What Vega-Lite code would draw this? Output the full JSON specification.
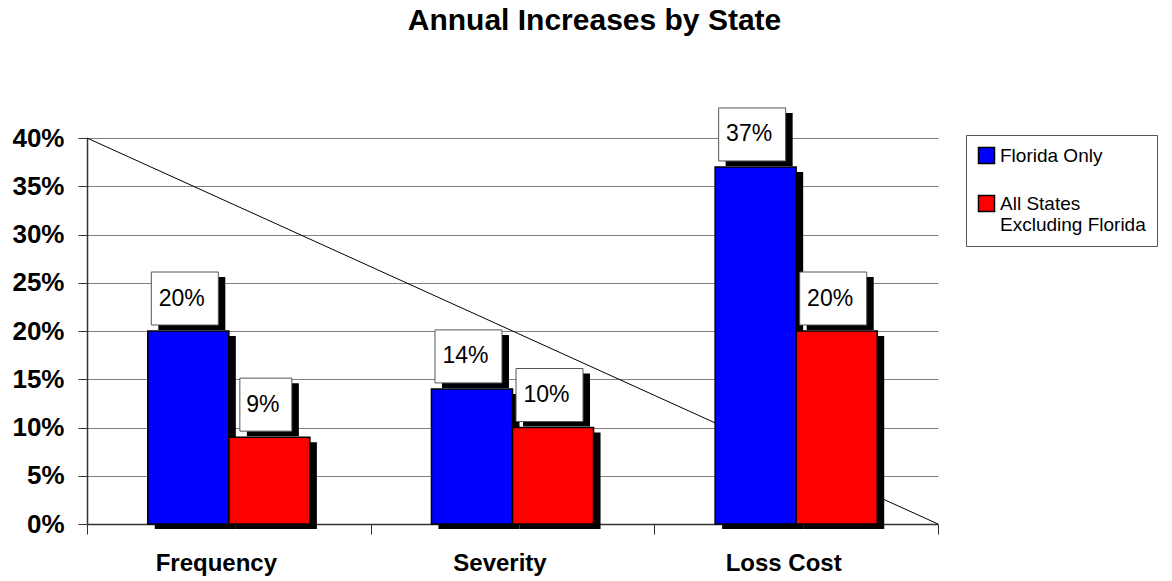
{
  "$schema": "https://vega.github.io/schema/vega-lite/v6.json",
  "width": 851,
  "height": 386,
  "autosize": {"type": "none"},
  "padding": {"left": 87, "top": 138, "right": 234, "bottom": 57},
  "background": "white",
  "config": {
    "font": "Liberation Sans",
    "view": {"stroke": null}
  },
  "title": {
    "text": "Annual Increases by State",
    "font": "Liberation Sans",
    "fontSize": 30,
    "fontWeight": "bold",
    "color": "black",
    "anchor": "middle",
    "dx": 82,
    "baseline": "alphabetic",
    "offset": 47
  },
  "datasets": {
    "increases": [
      {"cat": "Frequency", "series": "Florida Only", "value": 0.20},
      {"cat": "Frequency", "series": "All States Excluding Florida", "value": 0.09},
      {"cat": "Severity", "series": "Florida Only", "value": 0.14},
      {"cat": "Severity", "series": "All States Excluding Florida", "value": 0.10},
      {"cat": "Loss Cost", "series": "Florida Only", "value": 0.37},
      {"cat": "Loss Cost", "series": "All States Excluding Florida", "value": 0.20}
    ],
    "diagonal": [
      {"t": 0, "value": 0.40},
      {"t": 1, "value": 0.0}
    ]
  },
  "layer": [
    {
      "data": {"name": "diagonal"},
      "mark": {"type": "line", "color": "black", "strokeWidth": 1},
      "encoding": {
        "x": {"field": "t", "type": "quantitative", "scale": {"domain": [0, 1], "nice": false, "zero": false}, "axis": null},
        "y": {
          "field": "value", "type": "quantitative",
          "scale": {"domain": [0, 0.4], "nice": false},
          "axis": {
            "title": null,
            "values": [0, 0.05, 0.1, 0.15, 0.2, 0.25, 0.3, 0.35, 0.4],
            "format": ".0%",
            "labelFont": "Liberation Sans",
            "labelFontSize": 26,
            "labelFontWeight": "bold",
            "labelColor": "black",
            "labelPadding": 14,
            "labelFlush": false,
            "labelBound": false,
            "tickSize": 9,
            "tickColor": "#333",
            "domainColor": "#333",
            "domainWidth": 1.5,
            "grid": true,
            "gridColor": "#808080",
            "gridWidth": 1
          }
        }
      }
    },
    {
      "data": {"name": "increases"},
      "encoding": {
        "x": {
          "field": "cat", "type": "nominal",
          "scale": {"domain": ["Frequency", "Severity", "Loss Cost"], "paddingInner": 0, "paddingOuter": 0},
          "axis": {
            "title": null,
            "tickBand": "extent",
            "labelAngle": 0,
            "labelFont": "Liberation Sans",
            "labelFontSize": 24,
            "labelFontWeight": "bold",
            "labelColor": "black",
            "labelOffset": -13,
            "labelPadding": 17,
            "tickSize": 10,
            "tickColor": "#333",
            "domainColor": "#333",
            "domainWidth": 1.5,
            "grid": false
          }
        },
        "y": {
          "field": "value", "type": "quantitative",
          "scale": {"domain": [0, 0.4], "nice": false},
          "axis": {
            "title": null,
            "values": [0, 0.05, 0.1, 0.15, 0.2, 0.25, 0.3, 0.35, 0.4],
            "format": ".0%",
            "labelFont": "Liberation Sans",
            "labelFontSize": 26,
            "labelFontWeight": "bold",
            "labelColor": "black",
            "labelPadding": 14,
            "labelFlush": false,
            "labelBound": false,
            "tickSize": 9,
            "tickColor": "#333",
            "domainColor": "#333",
            "domainWidth": 1.5,
            "grid": true,
            "gridColor": "#808080",
            "gridWidth": 1
          }
        }
      },
      "layer": [
        {
          "mark": {"type": "bar", "color": "black", "yOffset": 5, "y2Offset": 5},
          "encoding": {
            "xOffset": {
              "field": "series", "type": "nominal",
              "scale": {"domain": ["Florida Only", "All States Excluding Florida"], "range": [7, 290.67], "paddingInner": 0, "paddingOuter": 0.75}
            }
          }
        },
        {
          "mark": {"type": "bar", "stroke": "black", "strokeWidth": 1.5},
          "encoding": {
            "xOffset": {
              "field": "series", "type": "nominal",
              "scale": {"domain": ["Florida Only", "All States Excluding Florida"], "range": [0, 283.67], "paddingInner": 0, "paddingOuter": 0.75}
            },
            "color": {
              "field": "series", "type": "nominal",
              "scale": {"domain": ["Florida Only", "All States Excluding Florida"], "range": ["#0000FF", "#FF0000"]},
              "legend": {
                "orient": "none",
                "legendX": 879,
                "legendY": -3,
                "title": null,
                "symbolType": "square",
                "symbolSize": 256,
                "symbolStrokeColor": "black",
                "symbolStrokeWidth": 1.5,
                "labelFont": "Liberation Sans",
                "labelFontSize": 19,
                "labelColor": "black",
                "labelLimit": 300,
                "labelOffset": 4,
                "labelExpr": "datum.label == 'All States Excluding Florida' ? ['All States', 'Excluding Florida'] : datum.label",
                "strokeColor": "#555",
                "fillColor": "white",
                "padding": 11,
                "rowPadding": 25
              }
            }
          }
        },
        {
          "transform": [{"filter": "datum.value >= 0.095"}],
          "mark": {"type": "bar", "color": "black", "width": 67, "yOffset": -54, "y2Offset": -1},
          "encoding": {
            "y2": {"field": "value"},
            "xOffset": {
              "field": "series", "type": "nominal",
              "scale": {"domain": ["Florida Only", "All States Excluding Florida"], "range": [3.5, 287.17], "paddingInner": 0, "paddingOuter": 0.75}
            }
          }
        },
        {
          "transform": [{"filter": "datum.value < 0.095"}],
          "mark": {"type": "bar", "color": "black", "width": 52, "yOffset": -54, "y2Offset": -1},
          "encoding": {
            "y2": {"field": "value"},
            "xOffset": {
              "field": "series", "type": "nominal",
              "scale": {"domain": ["Florida Only", "All States Excluding Florida"], "range": [3.5, 287.17], "paddingInner": 0, "paddingOuter": 0.75}
            }
          }
        },
        {
          "transform": [{"filter": "datum.value >= 0.095"}],
          "mark": {"type": "bar", "color": "white", "stroke": "#555", "strokeWidth": 1, "width": 67, "yOffset": -59, "y2Offset": -6},
          "encoding": {
            "y2": {"field": "value"},
            "xOffset": {
              "field": "series", "type": "nominal",
              "scale": {"domain": ["Florida Only", "All States Excluding Florida"], "range": [-3.5, 280.17], "paddingInner": 0, "paddingOuter": 0.75}
            }
          }
        },
        {
          "transform": [{"filter": "datum.value < 0.095"}],
          "mark": {"type": "bar", "color": "white", "stroke": "#555", "strokeWidth": 1, "width": 52, "yOffset": -59, "y2Offset": -6},
          "encoding": {
            "y2": {"field": "value"},
            "xOffset": {
              "field": "series", "type": "nominal",
              "scale": {"domain": ["Florida Only", "All States Excluding Florida"], "range": [-3.5, 280.17], "paddingInner": 0, "paddingOuter": 0.75}
            }
          }
        },
        {
          "mark": {"type": "text", "font": "Liberation Sans", "fontSize": 23, "color": "black", "baseline": "middle", "align": "center", "yOffset": -32.5},
          "encoding": {
            "text": {"field": "value", "type": "quantitative", "format": ".0%"},
            "xOffset": {
              "field": "series", "type": "nominal",
              "scale": {"type": "point", "domain": ["Florida Only", "All States Excluding Florida"], "range": [13.8, 256.8], "padding": 1}
            }
          }
        }
      ],
      "resolve": {"scale": {"xOffset": "independent"}}
    }
  ],
  "resolve": {"scale": {"x": "independent"}}
}
